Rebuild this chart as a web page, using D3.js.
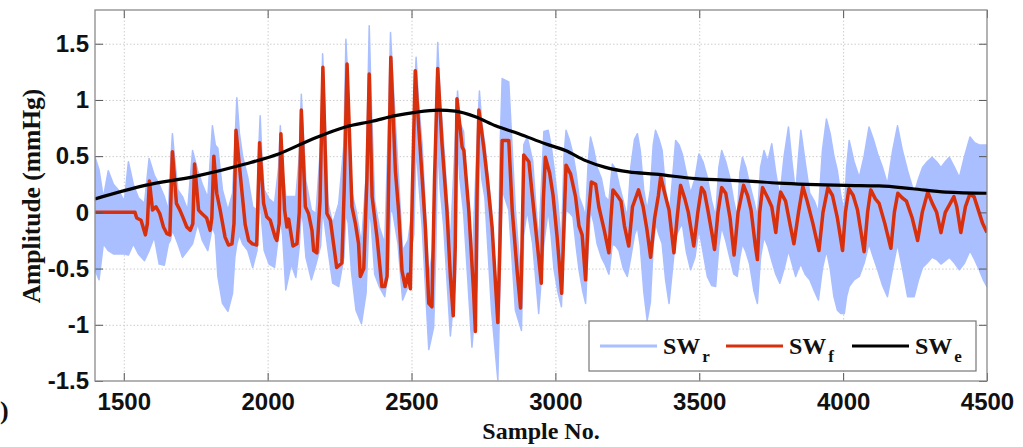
<!DOCTYPE html>
<html>
<head>
<meta charset="utf-8">
<script src="https://cdn.jsdelivr.net/npm/d3@7"></script>
<style>
  body { margin: 0; background: #fff; }
  svg { display: block; font-family: "Liberation Serif", "Times New Roman", serif; font-weight: bold; }
  .axis text { font-size: 24px; fill: #111; }
  .axis path { display: none; }
  .axis line { stroke: #555; stroke-width: 1; }
  .grid line { stroke: #cdcdcd; stroke-dasharray: 1.5,2; }
  .grid path { display: none; }
  .axis-label { font-size: 24px; fill: #111; }
</style>
</head>
<body>
<svg id="chart" width="1023" height="447"></svg>
<script>
// tick values
const xTicks = [1500, 2000, 2500, 3000, 3500, 4000, 4500];
const yTicks = [-1.5, -1, -0.5, 0, 0.5, 1, 1.5];

// legend entries
const legendKeys = ["r", "f", "e"];

// SW_e : envelope  [sample, amplitude]
const swE = [
  [1400, 0.12], [1574, 0.24], [1748, 0.32], [1922, 0.43], [2038, 0.52], [2154, 0.65],
  [2270, 0.76], [2363, 0.81], [2444, 0.86], [2513, 0.89], [2594, 0.91], [2652, 0.90],
  [2722, 0.85], [2792, 0.77], [2873, 0.70], [2965, 0.61], [3035, 0.55], [3105, 0.46],
  [3174, 0.40], [3255, 0.36], [3348, 0.34], [3487, 0.30], [3661, 0.28], [3777, 0.26],
  [4009, 0.24], [4125, 0.235], [4241, 0.21], [4357, 0.18], [4500, 0.17]
];

// SW_f : filtered signal  [sample, amplitude]
const swF = [
  [1400, 0], [1539, 0], [1545, -0.05], [1560, -0.07], [1575, -0.2], [1582, -0.1], [1589, 0.28],
  [1600, 0.02], [1612, 0.05], [1625, -0.01], [1638, -0.13], [1650, -0.19], [1660, -0.2],
  [1669, 0.54], [1683, 0.08], [1695, 0.02], [1705, -0.04], [1719, -0.13], [1731, -0.16],
  [1740, -0.1], [1746, 0.43], [1760, 0.02], [1771, -0.01], [1788, -0.05], [1800, -0.16],
  [1806, -0.05], [1813, 0.5], [1823, 0.17], [1835, 0.02], [1852, -0.22], [1864, -0.29],
  [1876, -0.28], [1883, -0.1], [1890, 0.73], [1910, 0.2], [1922, -0.11], [1934, -0.25],
  [1947, -0.28], [1962, -0.29], [1972, 0.62], [1986, 0.08], [1997, -0.04], [2009, -0.07],
  [2026, -0.22], [2032, -0.25], [2040, -0.1], [2046, 0.7], [2059, 0.02], [2067, -0.13],
  [2073, -0.06], [2088, -0.3], [2102, -0.28], [2110, 0.0], [2117, 0.91], [2131, 0.05],
  [2142, -0.01], [2154, -0.16], [2160, -0.34], [2171, -0.36], [2182, 0.1], [2192, 1.29],
  [2206, -0.01], [2218, -0.07], [2229, -0.28], [2240, -0.49], [2258, -0.45], [2266, 0.2],
  [2276, 1.32], [2293, 0.05], [2305, -0.1], [2316, -0.28], [2322, -0.57], [2334, -0.5],
  [2345, 0.3], [2353, 1.23], [2363, 0.14], [2380, -0.22], [2397, -0.66], [2407, -0.66],
  [2415, -0.57], [2422, 0.5], [2428, 1.38], [2444, 0.37], [2455, 0.02], [2467, -0.52],
  [2478, -0.66], [2488, -0.55], [2496, -0.68], [2503, 0.2], [2513, 1.26], [2525, 0.76],
  [2537, 0.31], [2548, -0.13], [2560, -0.81], [2571, -0.84], [2580, 0.3], [2591, 1.28],
  [2606, 0.61], [2623, 0.02], [2635, -0.57], [2645, -0.92], [2652, -0.3], [2658, 1.01],
  [2676, 0.58], [2682, 0.55], [2699, 0.02], [2716, -0.72], [2722, -1.06], [2728, 0.2],
  [2734, 0.91], [2751, 0.58], [2763, 0.31], [2780, -0.13], [2800, -0.98], [2808, -0.2],
  [2815, 0.64], [2838, 0.64], [2850, 0.02], [2867, -0.52], [2879, -0.85], [2884, -0.3],
  [2890, 0.51], [2908, 0.45], [2919, 0.17], [2937, -0.28], [2951, -0.63], [2958, 0.1],
  [2965, 0.49], [2980, 0.35], [2992, 0.15], [3006, -0.22], [3022, -0.72], [3030, -0.1],
  [3037, 0.42], [3053, 0.34], [3070, 0.14], [3082, -0.12], [3093, -0.2], [3105, -0.6],
  [3114, -0.05], [3125, 0.27], [3140, 0.25], [3151, 0.05], [3169, -0.15], [3186, -0.36],
  [3193, -0.05], [3200, 0.2], [3215, 0.15], [3228, 0.1], [3240, -0.12], [3255, -0.3],
  [3268, 0.05], [3289, 0.2], [3305, 0.05], [3318, -0.15], [3331, -0.4], [3345, -0.05],
  [3358, 0.15], [3366, 0.32], [3378, 0.19], [3395, 0.02], [3412, -0.36], [3423, -0.05],
  [3435, 0.24], [3450, 0.12], [3462, 0.0], [3481, -0.3], [3495, 0.0], [3508, 0.22],
  [3518, 0.18], [3530, 0.02], [3545, -0.2], [3553, -0.33], [3565, 0.0], [3578, 0.22],
  [3592, 0.17], [3607, -0.05], [3621, -0.38], [3635, 0.0], [3654, 0.24], [3668, 0.15],
  [3680, 0.02], [3695, -0.3], [3702, -0.42], [3710, 0.0], [3720, 0.22], [3738, 0.13],
  [3752, 0.05], [3766, -0.18], [3775, 0.05], [3783, 0.18], [3800, 0.1], [3815, -0.1],
  [3829, -0.28], [3845, 0.0], [3860, 0.23], [3875, 0.1], [3895, -0.1], [3916, -0.34],
  [3930, 0.0], [3947, 0.22], [3963, 0.15], [3980, -0.05], [3998, -0.34], [4008, 0.0],
  [4020, 0.21], [4035, 0.15], [4050, 0.02], [4073, -0.35], [4085, 0.0], [4096, 0.2],
  [4112, 0.12], [4125, 0.08], [4145, -0.1], [4166, -0.32], [4178, 0.0], [4190, 0.17],
  [4205, 0.13], [4220, 0.1], [4240, -0.05], [4259, -0.25], [4275, 0.0], [4294, 0.18],
  [4310, 0.08], [4325, 0.0], [4340, -0.18], [4355, 0.0], [4368, 0.06], [4385, 0.14],
  [4395, 0.05], [4409, -0.18], [4425, 0.05], [4440, 0.16], [4455, 0.14], [4470, 0.02],
  [4485, -0.1], [4500, -0.18]
];

// SW_r : raw signal, read as the band it covers  [sample, low, high]
const swR = [
  [1400, -0.51, 0.49], [1414, -0.6, 0.38], [1429, -0.28, 0.13], [1446, -0.34, 0.37],
  [1464, -0.37, 0.25], [1481, -0.37, 0.2], [1502, -0.37, 0.1], [1516, -0.38, 0.45],
  [1533, -0.28, 0.25], [1551, -0.37, 0.13], [1572, -0.43, 0.08], [1588, -0.34, 0.48],
  [1606, -0.22, 0.33], [1623, -0.46, 0.25], [1641, -0.47, 0.14], [1655, -0.28, 0.02],
  [1662, -0.25, 0.4], [1669, -0.16, 0.70], [1676, -0.2, 0.5], [1688, -0.28, 0.2],
  [1704, -0.4, 0.14], [1722, -0.34, 0.02], [1739, -0.28, 0.55], [1757, -0.1, 0.37],
  [1773, -0.25, 0.25], [1792, -0.34, 0.13], [1808, -0.13, 0.77], [1818, -0.2, 0.6],
  [1827, -0.57, 0.57], [1843, -0.81, 0.2], [1862, -0.88, 0.02], [1878, -0.72, 0.17],
  [1886, -0.4, 0.6], [1893, -0.28, 1.02], [1902, -0.2, 0.7], [1913, -0.28, 0.5],
  [1931, -0.34, 0.31], [1948, -0.49, 0.05], [1963, -0.34, 0.02], [1968, -0.1, 0.5],
  [1974, 0.13, 0.86], [1980, -0.1, 0.5], [1988, -0.34, 0.2], [2005, -0.46, 0.12],
  [2024, -0.49, 0.08], [2038, -0.2, 0.4], [2044, -0.04, 0.77], [2052, -0.2, 0.4],
  [2063, -0.69, 0.14], [2082, -0.46, 0.14], [2098, -0.58, 0.14], [2110, -0.3, 0.5],
  [2117, 0.02, 1.05], [2124, -0.1, 0.7], [2133, -0.4, 0.28], [2152, -0.6, 0.02],
  [2168, -0.46, -0.01], [2184, -0.3, 0.6], [2191, 0.02, 1.41], [2198, -0.1, 1.0],
  [2210, -0.34, 0.08], [2226, -0.63, -0.1], [2247, -0.66, 0.08], [2265, -0.4, 0.6],
  [2272, 0.0, 1.54], [2280, -0.1, 1.1], [2291, -0.52, 0.2], [2307, -0.87, 0.02],
  [2326, -0.99, -0.28], [2342, -0.72, 0.31], [2347, -0.4, 0.9], [2353, 0.02, 1.66],
  [2360, -0.1, 1.0], [2372, -0.55, 0.1], [2388, -0.66, -0.13], [2407, -0.75, -0.28],
  [2420, -0.5, 0.8], [2427, 0.02, 1.6], [2435, 0.0, 1.2], [2453, -0.28, 0.4],
  [2469, -0.78, -0.34], [2488, -0.66, -0.25], [2502, -0.28, 0.02], [2508, -0.2, 0.9],
  [2516, 0.6, 1.38], [2524, 0.3, 1.0], [2537, -0.13, 0.6], [2560, -1.22, -0.57],
  [2577, -1.02, -0.28], [2584, -0.4, 0.9], [2591, 0.6, 1.51], [2600, 0.2, 1.0],
  [2612, -0.13, 0.6], [2635, -1.1, -0.28], [2653, -0.6, 0.7], [2660, 0.6, 1.08],
  [2668, 0.3, 0.8], [2681, 0.0, 0.72], [2710, -1.2, -0.52], [2729, -0.6, 0.7],
  [2736, 0.6, 1.08], [2744, 0.3, 0.8], [2755, 0.13, 0.6], [2778, -0.87, 0.02],
  [2800, -1.49, -0.87], [2808, -0.6, 0.6], [2815, 0.2, 1.19], [2838, 0.02, 1.16],
  [2861, -0.87, 0.02], [2882, -1.05, -0.66], [2890, -0.2, 0.6], [2902, 0.02, 0.67],
  [2921, -0.28, 0.46], [2942, -0.9, -0.28], [2960, -0.28, 0.72], [2975, 0.02, 0.73],
  [2985, -0.2, 0.6], [2995, -0.5, 0.4], [3008, -0.7, 0.1], [3021, -0.84, -0.28],
  [3030, -0.3, 0.5], [3037, 0.02, 0.73], [3048, 0.0, 0.65], [3061, -0.04, 0.52],
  [3072, -0.3, 0.35], [3082, -0.51, 0.14], [3095, -0.7, 0.05], [3105, -0.81, -0.04],
  [3114, -0.3, 0.45], [3122, 0.02, 0.67], [3134, -0.1, 0.55], [3145, -0.28, 0.4],
  [3160, -0.4, 0.3], [3172, -0.46, 0.14], [3186, -0.55, 0.1], [3198, -0.28, 0.43],
  [3210, -0.3, 0.38], [3221, -0.34, 0.25], [3236, -0.5, 0.1], [3250, -0.57, -0.04],
  [3262, -0.4, 0.4], [3275, -0.2, 0.65], [3285, -0.13, 0.7], [3295, -0.3, 0.55],
  [3307, -0.7, 0.2], [3319, -0.96, 0.02], [3330, -0.8, 0.2], [3340, -0.3, 0.6],
  [3348, -0.1, 0.73], [3360, -0.2, 0.65], [3371, -0.28, 0.55], [3383, -0.6, 0.2],
  [3395, -0.81, -0.04], [3407, -0.5, 0.3], [3418, -0.22, 0.64], [3430, -0.15, 0.6],
  [3441, -0.1, 0.52], [3455, -0.35, 0.35], [3470, -0.51, 0.17], [3485, -0.4, 0.3],
  [3499, -0.15, 0.52], [3513, -0.35, 0.45], [3528, -0.57, 0.31], [3543, -0.65, 0.1],
  [3557, -0.66, -0.04], [3568, -0.3, 0.4], [3578, -0.13, 0.55], [3592, -0.25, 0.45],
  [3606, -0.4, 0.31], [3620, -0.55, 0.1], [3632, -0.57, -0.04], [3641, -0.4, 0.35],
  [3650, -0.28, 0.49], [3662, -0.35, 0.4], [3675, -0.46, 0.25], [3690, -0.7, 0.1],
  [3702, -0.81, -0.04], [3713, -0.4, 0.4], [3725, -0.22, 0.55], [3738, -0.3, 0.45],
  [3752, -0.43, 0.61], [3766, -0.55, 0.35], [3780, -0.63, 0.14], [3795, -0.5, 0.5],
  [3810, -0.34, 0.76], [3822, -0.45, 0.45], [3835, -0.57, 0.17], [3845, -0.5, 0.5],
  [3853, -0.46, 0.73], [3868, -0.55, 0.45], [3884, -0.6, 0.17], [3900, -0.7, 0.1],
  [3914, -0.78, 0.0], [3928, -0.5, 0.55], [3942, -0.34, 0.83], [3955, -0.5, 0.7],
  [3968, -0.75, 0.5], [3980, -0.87, 0.37], [3992, -0.9, 0.15], [4004, -0.9, 0.0],
  [4012, -0.75, 0.4], [4021, -0.66, 0.64], [4038, -0.6, 0.45], [4056, -0.57, 0.31],
  [4073, -0.45, 0.5], [4090, -0.28, 0.76], [4105, -0.4, 0.65], [4120, -0.51, 0.52],
  [4137, -0.65, 0.4], [4154, -0.75, 0.25], [4172, -0.5, 0.55], [4189, -0.28, 0.77],
  [4206, -0.5, 0.55], [4224, -0.75, 0.37], [4247, -0.75, 0.17], [4262, -0.6, 0.3],
  [4276, -0.49, 0.4], [4292, -0.45, 0.45], [4309, -0.4, 0.49], [4325, -0.42, 0.45],
  [4340, -0.46, 0.4], [4355, -0.43, 0.45], [4369, -0.4, 0.49], [4387, -0.45, 0.4],
  [4404, -0.51, 0.31], [4422, -0.45, 0.5], [4441, -0.34, 0.67], [4457, -0.42, 0.62],
  [4473, -0.51, 0.6], [4487, -0.6, 0.6], [4500, -0.66, 0.6]
];

class SignalChart {
  constructor(_config) {
    this.config = {
      parentElement: _config.parentElement,
      containerWidth: _config.containerWidth || 1023,
      containerHeight: _config.containerHeight || 447,
      margin: _config.margin || { top: 10, right: 36, bottom: 66, left: 95 },
    };
    this.colors = { r: "#aabfff", f: "#d8300c", e: "#000000" };
    this.initVis();
  }

  initVis() {
    let vis = this;
    const m = vis.config.margin;
    vis.width = vis.config.containerWidth - m.left - m.right;
    vis.height = vis.config.containerHeight - m.top - m.bottom;

    vis.svg = d3.select(vis.config.parentElement);
    vis.chart = vis.svg.append("g").attr("transform", `translate(${m.left},${m.top})`);

    vis.xScale = d3.scaleLinear().domain([1400, 4500]).range([0, vis.width]);
    vis.yScale = d3.scaleLinear().domain([-1.5, 1.8]).range([vis.height, 0]);

    vis.chart.append("clipPath").attr("id", "plot-clip")
      .append("rect").attr("width", vis.width).attr("height", vis.height);

    // grid
    vis.chart.append("g").attr("class", "grid")
      .call(d3.axisBottom(vis.xScale).tickValues(xTicks.filter(d => d < 4500)).tickSize(vis.height).tickFormat(""));
    vis.chart.append("g").attr("class", "grid")
      .call(d3.axisLeft(vis.yScale).tickValues(yTicks.filter(d => d > -1.5)).tickSize(-vis.width).tickFormat(""));

    vis.dataLayer = vis.chart.append("g").attr("clip-path", "url(#plot-clip)");

    // axes, ticks pointing inward
    vis.chart.append("g").attr("class", "axis")
      .attr("transform", `translate(0,${vis.height})`)
      .call(d3.axisBottom(vis.xScale).tickValues(xTicks).tickSizeInner(-8).tickSizeOuter(0).tickPadding(12).tickFormat(d => String(d)));
    vis.chart.append("g").attr("class", "axis")
      .call(d3.axisTop(vis.xScale).tickValues(xTicks).tickSizeInner(-8).tickSizeOuter(0).tickFormat(""));
    vis.chart.append("g").attr("class", "axis")
      .call(d3.axisLeft(vis.yScale).tickValues(yTicks).tickSizeInner(-8).tickSizeOuter(0).tickPadding(6).tickFormat(d => String(d)));
    vis.chart.append("g").attr("class", "axis")
      .attr("transform", `translate(${vis.width},0)`)
      .call(d3.axisRight(vis.yScale).tickValues(yTicks).tickSizeInner(-8).tickSizeOuter(0).tickFormat(""));

    vis.chart.append("rect")
      .attr("width", vis.width).attr("height", vis.height)
      .attr("fill", "none").attr("stroke", "#8a8a8a").attr("stroke-width", 1.3);

    vis.chart.append("text")
      .attr("class", "axis-label")
      .attr("x", vis.width / 2)
      .attr("y", vis.height + 58)
      .attr("text-anchor", "middle")
      .text("Sample No.");

    vis.svg.append("text")
      .attr("class", "axis-label")
      .attr("text-anchor", "middle")
      .attr("transform", "rotate(-90)")
      .attr("x", -196)
      .attr("y", 40)
      .attr("font-size", 25.5)
      .style("font-size", "25.5px")
      .text("Amplitude (mmHg)");

    // panel mark, only its closing bracket shows in the source
    vis.svg.append("text")
      .attr("class", "axis-label")
      .attr("x", 0)
      .attr("y", 419)
      .style("font-size", "26px")
      .text(")");

    vis.updateVis();
  }

  updateVis() {
    let vis = this;

    const band = d3.area()
      .x(d => vis.xScale(d[0]))
      .y0(d => vis.yScale(d[1]))
      .y1(d => vis.yScale(d[2]));

    const line = d3.line()
      .x(d => vis.xScale(d[0]))
      .y(d => vis.yScale(d[1]));

    vis.dataLayer.append("path")
      .datum(swR)
      .attr("d", band)
      .attr("fill", vis.colors.r)
      .attr("stroke", vis.colors.r)
      .attr("stroke-width", 1.5)
      .attr("stroke-linejoin", "round");

    vis.dataLayer.append("path")
      .datum(swF)
      .attr("d", line)
      .attr("fill", "none")
      .attr("stroke", vis.colors.f)
      .attr("stroke-width", 3.5)
      .attr("stroke-linejoin", "round");

    vis.dataLayer.append("path")
      .datum(swE)
      .attr("d", line.curve(d3.curveMonotoneX))
      .attr("fill", "none")
      .attr("stroke", vis.colors.e)
      .attr("stroke-width", 3.2);

    vis.renderLegend();
  }

  renderLegend() {
    let vis = this;
    const lg = vis.svg.append("g").attr("transform", "translate(589,321)");
    lg.append("rect")
      .attr("width", 387).attr("height", 50)
      .attr("fill", "#fff").attr("stroke", "#777").attr("stroke-width", 1.2);

    const items = lg.selectAll(".legend-item")
      .data(legendKeys)
      .join("g")
      .attr("class", "legend-item")
      .attr("transform", (d, i) => `translate(${11 + i * 126},0)`);

    items.append("line")
      .attr("x1", 0).attr("x2", 57)
      .attr("y1", 25).attr("y2", 25)
      .attr("stroke", d => vis.colors[d])
      .attr("stroke-width", 3);

    const label = items.append("text")
      .attr("x", 63).attr("y", 33)
      .attr("font-size", 24)
      .attr("fill", "#111");
    label.append("tspan").text("SW");
    label.append("tspan")
      .attr("dx", 2).attr("dy", 8)
      .attr("font-size", 17)
      .text(d => d);
  }
}

new SignalChart({ parentElement: "#chart" });
</script>
</body>
</html>
